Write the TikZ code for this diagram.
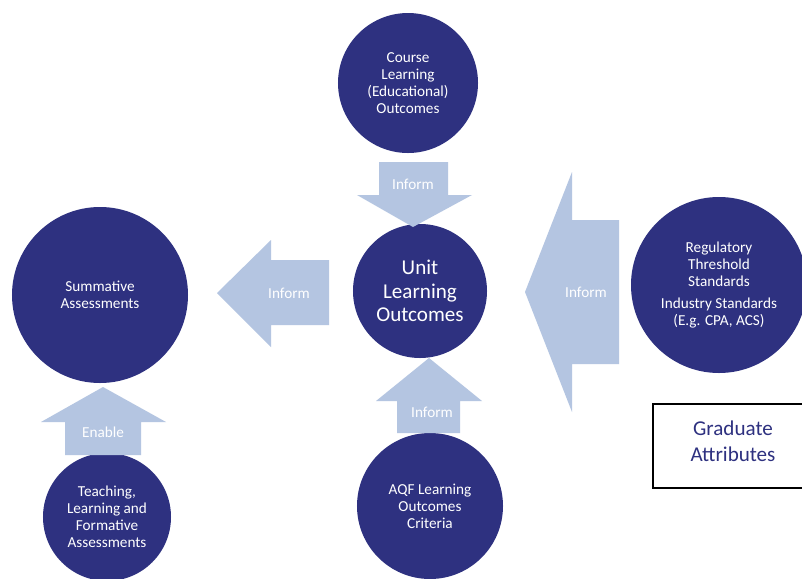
\documentclass[tikz,border=0pt]{standalone}
\usepackage{fontspec}
\setmainfont{Carlito}
\definecolor{navy}{RGB}{46,49,128}
\definecolor{paleblue}{RGB}{180,197,225}

\begin{document}
\begin{tikzpicture}[x=0.03cm, y=-0.03cm,
	circ/.style={circle, fill=navy, text=white, align=center, inner sep=0pt,
		font=\fontsize{13}{14.5}\selectfont},
	blockarrow/.style={fill=paleblue, draw=none},
	arrowlabel/.style={text=white, inner sep=0pt, font=\fontsize{13}{15}\selectfont}]
	\useasboundingbox (0,0) rectangle (802,578);
	\clip (0,0) rectangle (802,578);
	\fill [white] (0,0) rectangle (802,578);

	% circles
	\node [circ, minimum size=4.2cm] (course) at (408,83) {Course\\Learning\\(Educational)\\Outcomes};
	\node [circ, minimum size=4.02cm, font=\fontsize{18}{20}\selectfont] (unit) at (420,291) {Unit\\Learning\\Outcomes};
	\node [circ, minimum size=5.28cm] (summative) at (100,295) {Summative\\Assessments};
	\node [circ, minimum size=3.84cm] (teaching) at (107,517) {Teaching,\\Learning and\\Formative\\Assessments};
	\node [circ, minimum size=4.38cm] (aqf) at (430,506) {AQF Learning\\Outcomes\\Criteria};
	\node [circ, minimum size=5.28cm] (regulatory) at (719,285) {Regulatory\\Threshold\\Standards\\[4pt]Industry Standards\\(E.g. CPA, ACS)};

	% block arrows
	\fill [blockarrow] (379,162) -- (448,162) -- (448,195) -- (472,195) -- (413,227) -- (357,195) -- (379,195) -- cycle;
	\node [arrowlabel] (informtop) at (413,184) {Inform};
	\fill [blockarrow] (217,293) -- (271,240) -- (271,260) -- (329,260) -- (329,325) -- (271,325) -- (271,347) -- cycle;
	\node [arrowlabel] (informleft) at (289,293) {Inform};
	\fill [blockarrow] (525,292) -- (572,172) -- (572,220) -- (619,220) -- (619,364) -- (572,364) -- (572,412) -- cycle;
	\node [arrowlabel] (informright) at (586,292) {Inform};
	\fill [blockarrow] (103,387) -- (166,422) -- (141,422) -- (141,455) -- (65,455) -- (65,422) -- (41,422) -- cycle;
	\node [arrowlabel] (enable) at (103,432) {Enable};
	\fill [blockarrow] (429,358) -- (482,401) -- (460,401) -- (460,433) -- (397,433) -- (397,401) -- (376,401) -- cycle;
	\node [arrowlabel] (informbottom) at (432,412) {Inform};

	% graduate attributes
	\draw [black, line width=1.2pt] (653,404) rectangle (813,488);
	\node [align=center, text=navy, font=\fontsize{18}{22}\selectfont] (grad) at (733,441) {Graduate\\Attributes};
\end{tikzpicture}
\end{document}
